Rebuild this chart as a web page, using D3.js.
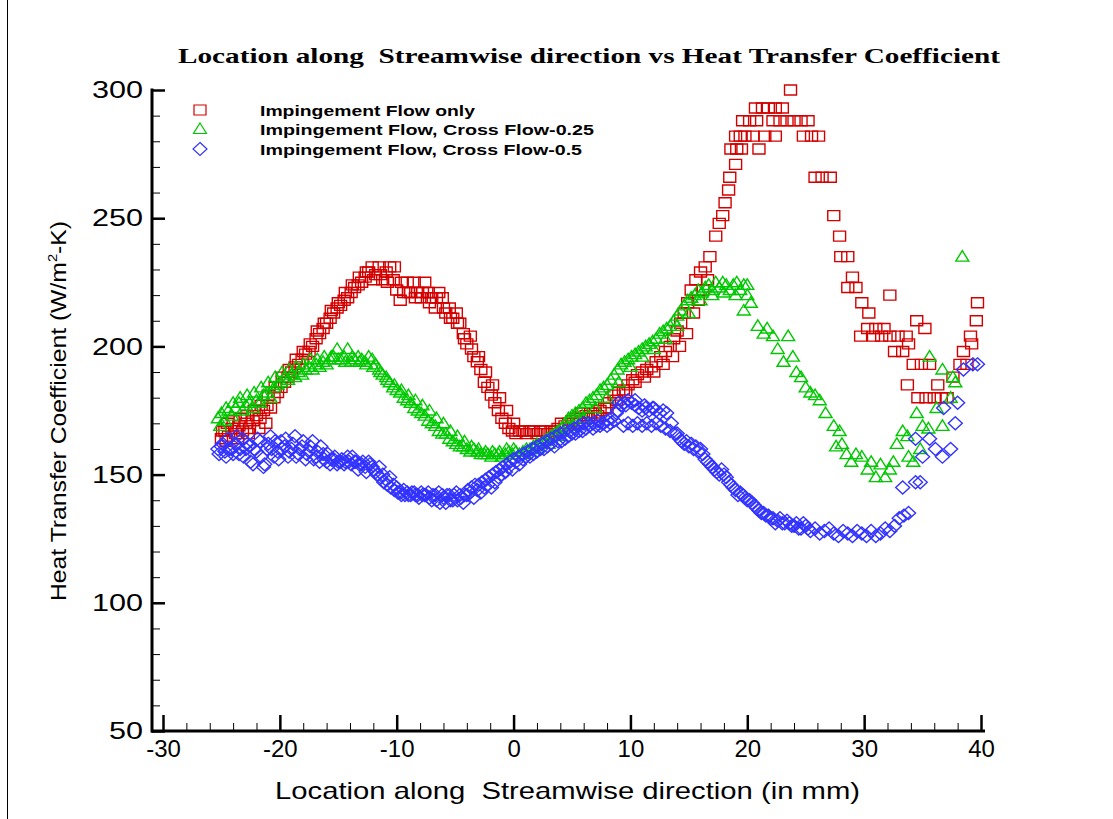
<!DOCTYPE html>
<html>
<head>
<meta charset="utf-8">
<script src="https://cdn.jsdelivr.net/npm/d3@7"></script>
<style>
  html, body { margin: 0; padding: 0; background: #fff; }
  svg { display: block; }
  text.pre { white-space: pre; }
</style>
</head>
<body>
<svg id="chart" width="1113" height="819"></svg>
<script>
// ---------------- DATA ----------------
const title = "Location along  Streamwise direction vs Heat Transfer Coefficient";
const xLabel = "Location along  Streamwise direction (in mm)";
const seriesNames = ["Impingement Flow only", "Impingement Flow, Cross Flow-0.25", "Impingement Flow, Cross Flow-0.5"];
const xTicks = [-30, -20, -10, 0, 10, 20, 30, 40];
const xMinorTicks = d3.range(-30, 41, 2);
const yTicks = [50, 100, 150, 200, 250, 300];
const yMinorTicks = d3.range(50, 301, 10);

// Impingement Flow only  [x (mm), h]
const redPoints = [
[-25.0,164],[-24.7,167],[-24.4,165],[-24.1,168],[-23.8,166],[-23.5,169],[-23.2,167],[-22.9,170],[-22.6,168],[-22.3,171],
[-22.0,173],[-21.7,172],[-21.4,175],[-21.1,177],[-20.8,176],[-20.5,180],[-20.2,182],[-19.9,184],[-19.6,186],[-19.3,188],
[-19.0,190],[-18.7,192],[-18.4,193],[-18.1,195],[-17.8,197],[-17.5,198],[-17.2,200],[-16.9,203],[-16.6,205],[-16.3,207],
[-16.0,209],[-15.7,211],[-15.4,213],[-15.1,215],[-14.8,216],[-14.5,218],[-14.2,219],[-13.9,221],[-13.6,223],[-13.3,224],
[-13.0,225],[-12.7,227],[-12.4,229],[-12.1,231],[-11.8,228],[-11.5,231],[-11.2,226],[-10.9,229],[-10.6,231],[-10.3,226],
[-10.0,222],[-9.7,218],[-9.4,221],[-9.1,225],[-8.8,221],[-8.5,225],[-8.2,221],[-7.9,219],[-7.6,225],[-7.3,221],
[-7.0,219],[-6.7,215],[-6.4,221],[-6.1,219],[-5.8,213],[-5.5,215],[-5.2,211],[-4.9,213],[-4.6,209],[-4.3,205],
[-4.0,201],[-3.7,204],[-3.4,196],[-3.1,194],[-2.8,191],[-2.5,186],[-2.2,184],[-1.9,181],[-1.6,178],[-1.3,175],
[-1.0,172],[-0.7,170],[-0.4,168],[-0.1,167],[0.2,166],[0.5,167],[0.8,167],[1.1,166],[1.4,167],[1.7,167],
[2.0,166],[2.3,167],[2.6,167],[2.9,166],[3.2,167],[3.5,167],[3.8,168],[4.1,170],[4.4,169],[4.7,170],
[5.0,171],[5.4,172],[5.8,174],[6.2,173],[6.6,174],[7.0,174],[7.4,175],[7.8,176],[8.2,178],[8.6,181],
[9.0,182],[9.4,183],[9.8,185],[10.2,187],[10.6,189],[11.0,190],[11.4,191],[11.8,192],[12.2,194],[12.6,196],
[13.0,198],[13.4,200],[13.7,203],[14.0,206],[14.3,209],[14.6,213],[14.9,217],[15.2,222],[15.6,226],[16.0,229],
[16.4,231],[16.8,235],[17.3,243],[17.6,248],[17.9,251],[18.1,256],[18.4,261],[18.5,266],[19.0,271],[18.6,277],
[19.1,277],[19.5,277],[21.0,277],[19.0,282],[19.4,282],[19.8,282],[20.5,282],[21.5,282],[22.4,282],[19.6,288],
[20.2,288],[20.8,288],[22.2,288],[22.8,288],[23.4,288],[24.0,288],[24.6,288],[25.2,288],[20.7,293],[21.3,293],
[21.8,293],[22.4,293],[23.0,293],[23.7,300],[24.8,282],[25.5,282],[26.1,282],[25.8,266],[26.4,266],[27.1,266],
[27.4,251],[27.9,243],[28.0,235],[28.6,235],[29.0,227],[28.6,223],[29.3,223],[29.8,217],[30.4,213],[32.2,220],
[29.7,204],[30.3,207],[31.0,207],[31.7,207],[30.8,204],[31.5,204],[32.2,204],[32.9,204],[33.6,204],[33.8,201],
[32.6,198],[33.3,198],[34.5,210],[35.2,207],[34.2,193],[34.9,193],[35.6,193],[33.7,185],[36.3,185],[37.6,188],
[34.6,180],[35.3,180],[36.0,180],[36.6,180],[37.1,180],[38.2,193],[38.8,193],[38.5,198],[39.1,204],[39.2,201],
[39.6,210],[39.7,217],
[-24.9,167],[-24.5,170],[-24.0,171],[-23.4,172],[-22.8,173],[-22.2,175],[-21.6,177],[-21.0,181],[-20.4,184],[-19.8,188],
[-19.2,191],[-18.6,195],[-18.0,198],[-17.4,201],[-16.8,206],[-16.2,209],[-15.6,214],[-15.0,217],[-14.4,221],[-13.8,224],
[-13.2,227],[-12.6,229],[-12.0,226],[-11.4,228],[-10.8,225],[-10.2,231],[-9.6,225],[-9.0,221],[-8.4,219],[-7.8,221],
[-7.2,217],[-6.6,219],[-6.0,215],[-5.4,211],[-4.8,209],[-4.2,203],[-3.6,199],[-3.0,196],[-2.4,190],[-1.8,185],
[-1.2,180],[-0.6,175],[0.0,170],[-24.6,163],[-23.6,164],[-22.7,166],[-21.8,168],[-21.2,170],
[5.6,170],[6.4,172],[7.2,173],[8.0,176],[8.8,179],[9.6,182],[10.4,186],[11.2,188],[12.0,190],[12.8,193],
[13.6,196],[14.2,200],[14.8,205],[15.4,213],[15.8,218],[16.2,222],[16.6,226]
];

// Impingement Flow, Cross Flow-0.25
const greenPoints = [
[-25.3,172],[-25.0,174],[-24.7,171],[-24.4,175],[-24.1,173],[-23.8,176],[-23.5,178],[-23.2,175],[-22.9,177],[-22.6,178],
[-22.3,176],[-22.0,179],[-21.7,178],[-21.4,181],[-21.1,182],[-20.8,180],[-20.5,184],[-20.2,185],[-19.9,186],[-19.6,188],
[-19.3,187],[-19.0,189],[-18.7,188],[-18.4,190],[-18.1,189],[-17.8,191],[-17.5,192],[-17.2,191],[-16.9,193],[-16.6,192],
[-16.3,194],[-16.0,193],[-15.7,195],[-15.4,196],[-15.1,199],[-14.8,195],[-14.5,196],[-14.2,199],[-13.9,194],[-13.6,195],
[-13.3,196],[-13.0,195],[-12.7,194],[-12.4,196],[-12.1,195],[-11.8,193],[-11.5,191],[-11.2,189],[-10.9,188],[-10.6,186],
[-10.3,184],[-10.0,183],[-9.7,182],[-9.4,180],[-9.1,179],[-8.8,178],[-8.5,176],[-8.2,175],[-7.9,174],[-7.6,173],
[-7.3,171],[-7.0,170],[-6.7,169],[-6.4,167],[-6.1,166],[-5.8,166],[-5.5,164],[-5.2,163],[-4.9,162],[-4.6,161],
[-4.3,161],[-4.0,160],[-3.7,159],[-3.4,160],[-3.1,159],[-2.8,158],[-2.5,158],[-2.2,158],[-1.9,157],[-1.6,158],
[-1.3,158],[-1.0,157],[-0.7,158],[-0.4,159],[-0.1,158],[0.2,159],[0.5,158],[0.8,159],[1.1,160],[1.4,160],
[1.7,161],[2.0,162],[2.3,162],[2.6,163],[2.9,164],[3.2,165],[3.5,166],[3.8,167],[4.1,168],[4.4,170],
[4.7,172],[5.0,173],[5.3,174],[5.6,175],[5.9,176],[6.2,178],[6.5,179],[6.8,180],[7.1,181],[7.4,183],
[7.7,184],[8.0,185],[8.3,187],[8.6,189],[8.9,191],[9.2,193],[9.5,194],[9.8,195],[10.1,196],[10.4,197],
[10.7,198],[11.0,199],[11.3,200],[11.6,201],[11.9,202],[12.2,203],[12.5,205],[12.8,206],[13.1,207],[13.4,208],
[13.7,210],[14.0,212],[14.3,214],[14.6,216],[14.9,218],[15.2,219],[15.5,220],[15.8,222],[16.1,221],[16.4,223],
[16.7,224],[17.0,222],[17.3,225],[17.6,223],[17.9,225],[18.2,224],[18.5,222],[18.8,224],[19.1,225],[19.4,222],
[19.7,224],[20.0,220],[19.7,214],[20.3,217],[20.9,208],[21.4,205],[21.7,207],[22.2,204],[22.6,199],[23.1,194],
[23.5,204],[23.9,196],[24.2,190],[24.6,188],[25.0,184],[25.4,182],[25.8,181],[26.2,179],[26.7,174],[27.4,169],
[27.9,167],[27.6,161],[28.1,162],[28.5,158],[28.9,155],[29.3,158],[29.8,157],[30.3,152],[30.6,155],[31.0,149],
[31.4,154],[31.8,149],[32.2,152],[32.5,155],[32.8,162],[33.3,167],[33.7,165],[33.8,157],[34.2,155],[34.5,174],
[34.8,160],[35.0,169],[35.5,168],[35.6,196],[36.2,176],[36.7,191],[36.7,169],[37.4,180],[37.6,188],[37.8,186],
[38.4,235],
[-25.1,169],[-24.6,176],[-24.0,178],[-23.4,180],[-22.8,181],[-22.2,182],[-21.6,184],[-21.0,186],[-20.4,188],[-19.8,190],
[-19.2,191],[-18.6,192],[-18.0,193],[-17.4,195],[-16.8,195],[-16.2,196],[-15.6,196],[-15.0,195],[-14.4,194],[-13.8,196],
[-13.2,194],[-12.6,193],[-12.0,192],[-11.4,190],[-10.8,187],[-10.2,185],[-9.6,183],[-9.0,181],[-8.4,179],[-7.8,177],
[-7.2,175],[-6.6,172],[-6.0,170],[-5.4,167],[-4.8,165],[-4.2,163],[-3.6,161],[-3.0,160],[-2.4,159],[-1.8,159],
[-1.2,159],[-0.6,160],[0.0,160],[1.0,158],[2.0,160],[3.0,162],[4.0,165],[5.0,169],[6.0,172],[7.0,176],
[8.0,180],[9.0,186],[10.0,192],[11.0,196],[12.0,199],[13.0,203],[14.0,208],[15.0,213],[16.0,218],[17.0,220],
[18.0,221],[19.0,220],[20.0,224]
];

// Impingement Flow, Cross Flow-0.5
const bluePoints = [
[-25.3,160],[-25.0,161],[-24.7,159],[-24.4,164],[-24.1,160],[-23.8,162],[-23.5,158],[-23.2,164],[-22.9,160],[-22.6,161],
[-22.3,154],[-22.0,159],[-21.7,163],[-21.4,153],[-21.1,160],[-20.8,165],[-20.5,157],[-20.2,159],[-19.9,163],[-19.6,161],
[-19.3,157],[-19.0,160],[-18.7,165],[-18.4,158],[-18.1,161],[-17.8,156],[-17.5,159],[-17.2,163],[-16.9,157],[-16.6,155],
[-16.3,158],[-16.0,155],[-15.7,154],[-15.4,156],[-15.1,154],[-14.8,155],[-14.5,154],[-14.2,157],[-13.9,154],[-13.6,155],
[-13.3,152],[-13.0,154],[-12.7,153],[-12.4,155],[-12.1,153],[-11.8,151],[-11.5,153],[-11.2,150],[-10.9,148],[-10.6,149],
[-10.3,146],[-10.0,145],[-9.7,143],[-9.4,144],[-9.1,143],[-8.8,142],[-8.5,143],[-8.2,142],[-7.9,143],[-7.6,142],
[-7.3,143],[-7.0,140],[-6.7,142],[-6.4,143],[-6.1,142],[-5.8,139],[-5.5,142],[-5.2,140],[-4.9,143],[-4.6,142],
[-4.3,139],[-4.0,142],[-3.7,143],[-3.4,141],[-3.1,144],[-2.8,143],[-2.5,145],[-2.2,146],[-1.9,145],[-1.6,147],
[-1.3,149],[-1.0,150],[-0.7,151],[-0.4,153],[-0.1,152],[0.2,155],[0.5,154],[0.8,156],[1.1,157],[1.4,157],
[1.7,158],[2.0,159],[2.3,160],[2.6,160],[2.9,161],[3.2,162],[3.5,161],[3.8,163],[4.1,163],[4.4,164],
[4.7,165],[5.0,166],[5.3,166],[5.6,167],[5.9,167],[6.2,168],[6.5,169],[6.8,168],[7.1,169],[7.4,169],
[7.7,170],[8.0,169],[8.3,170],[8.6,171],[8.9,175],[9.2,177],[9.5,178],[9.8,179],[10.1,178],[10.4,177],
[10.7,176],[11.0,175],[11.3,176],[11.6,175],[11.9,176],[12.2,175],[12.5,174],[12.8,175],[13.1,174],[9.4,169],
[9.8,170],[10.2,169],[10.6,170],[11.0,169],[11.4,170],[11.8,169],[12.2,170],[12.6,169],[13.0,168],[13.4,167],
[13.8,166],[14.2,164],[14.6,162],[15.0,161],[15.4,160],[15.8,159],[16.2,158],[16.6,155],[17.0,153],[17.4,151],
[17.8,152],[18.2,149],[18.6,146],[19.0,144],[19.4,143],[19.8,141],[20.2,140],[20.6,138],[21.0,136],[21.4,135],
[21.8,134],[22.2,133],[22.6,132],[23.0,131],[23.4,132],[23.8,130],[24.2,131],[24.6,129],[25.0,130],[25.4,128],
[25.8,129],[26.2,127],[26.6,128],[27.0,129],[27.4,127],[27.8,126],[28.2,128],[28.6,127],[29.0,126],[29.4,128],
[29.8,127],[30.2,126],[30.6,128],[31.0,126],[31.4,127],[31.8,129],[32.2,128],[32.6,130],[33.0,133],[33.4,134],
[33.8,135],[33.3,145],[34.4,147],[34.8,147],[34.4,164],[35.0,157],[35.6,164],[36.1,160],[36.7,157],[37.4,160],
[37.8,170],[38.0,178],[36.8,176],[38.5,191],[39.3,193],[39.7,193],
[-25.2,158],[-24.9,162],[-24.6,157],[-24.3,160],[-24.0,158],[-23.7,165],[-23.4,160],[-23.1,157],[-22.8,162],[-22.5,155],
[-22.2,160],[-21.9,164],[-21.6,157],[-21.3,154],[-21.0,162],[-20.7,160],[-20.4,163],[-20.1,156],[-19.8,160],[-19.5,164],
[-19.2,159],[-18.9,162],[-18.6,157],[-18.3,160],[-18.0,163],[-17.7,158],[-17.4,161],[-17.1,156],[-16.8,159],[-16.5,161],
[-16.2,156],[-15.9,158],[-15.6,156],[-15.3,157],[-15.0,155],[-14.7,156],[-14.4,155],[-14.1,155],[-13.8,157],[-13.5,155],
[-13.2,154],[-12.9,155],[-12.6,151],[-12.3,154],[-12.0,152],[-11.7,150],[-11.4,149],[-11.1,147],[-10.8,146],[-10.5,145],
[-10.2,144],[-9.9,143],[-9.6,142],[-9.3,142],[-9.0,142],[-8.7,143],[-8.4,142],[-8.1,141],[-7.8,142],[-7.5,142],
[-7.2,141],[-6.9,142],[-6.6,140],[-6.3,139],[-6.0,141],[-5.7,142],[-5.4,140],[-5.1,142],[-4.8,140],[-4.5,141],
[-4.2,142],[-3.9,144],[-3.6,145],[-3.3,146],[-3.0,146],[-2.7,147],[-2.4,148],[-2.1,149],[-1.8,150],[-1.5,151],
[-1.2,152],[-0.9,153],[-0.6,154],[-0.3,155],[0.0,156],[0.4,157],[0.8,158],[1.2,159],[1.6,160],[2.0,161],
[2.4,162],[2.8,163],[3.2,164],[3.6,165],[4.0,166],[4.4,167],[4.8,167],[5.2,168],[5.6,169],[6.0,170],
[6.4,170],[6.8,170],[7.2,171],[7.6,170],[8.0,171],[8.4,172],[8.8,174],
[9.0,178],[9.6,177],[10.4,179],[11.2,177],[12.0,176],[13.5,170],[14.0,166],[14.4,163],[14.8,163],[15.2,162],
[15.6,161],[16.0,160],[16.4,156],[16.8,154],[17.2,152],[17.6,150],[18.0,150],[18.4,147],[18.8,145],[19.2,142],
[19.6,142],[20.0,140],[20.4,139],[20.8,137],[21.2,135],[21.6,134],[22.0,133],[22.4,131],[22.8,133],[23.2,131],
[23.6,131],[24.0,130],[24.4,129],[24.8,131],[25.2,129]
];

// ---------------- LAYOUT ----------------
const svg = d3.select("#chart");
const x = d3.scaleLinear().domain([-30, 40]).range([163, 981]);
const y = d3.scaleLinear().domain([50, 300]).range([731, 90]);
const FONT = "'Liberation Sans', Arial, Helvetica, sans-serif";

// left frame line
svg.append("line").attr("x1", 7.5).attr("x2", 7.5).attr("y1", 0).attr("y2", 819)
  .attr("stroke", "#000").attr("stroke-width", 1);

// title
svg.append("text").attr("class", "pre").attr("x", 178).attr("y", 63)
  .attr("font-family", "'Liberation Serif', 'Times New Roman', serif")
  .attr("font-weight", "bold").attr("font-size", 21)
  .attr("textLength", 822).attr("lengthAdjust", "spacingAndGlyphs")
  .text(title);

// ---------------- AXES ----------------
const gx = svg.append("g").attr("transform", `translate(0,${y(50)})`);
gx.call(d3.axisBottom(x).tickValues(xMinorTicks).tickSize(-8).tickSizeOuter(0).tickFormat(""));
gx.select(".domain").remove();
gx.selectAll("line").attr("stroke", "#000").attr("stroke-width", 1);

const gx2 = svg.append("g").attr("transform", `translate(0,${y(50)})`);
gx2.call(d3.axisBottom(x).tickValues(xTicks).tickSize(-16).tickSizeOuter(0).tickPadding(9).tickFormat(d3.format("d")));
gx2.select(".domain").remove();
gx2.selectAll("line").attr("stroke", "#000").attr("stroke-width", 2.5);
gx2.selectAll("text").attr("font-family", FONT).attr("font-size", 24).attr("fill", "#000")
  .text(d => d < 0 ? "-" + Math.abs(d) : d);

const gy = svg.append("g").attr("transform", `translate(152,0)`);
gy.call(d3.axisLeft(y).tickValues(yMinorTicks).tickSize(-8).tickSizeOuter(0).tickFormat(""));
gy.select(".domain").remove();
gy.selectAll("line").attr("stroke", "#000").attr("stroke-width", 1);

const gy2 = svg.append("g").attr("transform", `translate(152,0)`);
gy2.call(d3.axisLeft(y).tickValues(yTicks).tickSize(-13).tickSizeOuter(0).tickPadding(9).tickFormat(d3.format("d")));
gy2.select(".domain").remove();
gy2.selectAll("line").attr("stroke", "#000").attr("stroke-width", 2.5);
gy2.selectAll("text").attr("font-family", FONT).attr("font-size", 24).attr("fill", "#000")
  .attr("textLength", d => d >= 100 ? 51 : 34).attr("lengthAdjust", "spacingAndGlyphs");

// axis lines
svg.append("line").attr("x1", 151).attr("x2", 985).attr("y1", y(50)).attr("y2", y(50))
  .attr("stroke", "#000").attr("stroke-width", 3);
svg.append("line").attr("x1", 152).attr("x2", 152).attr("y1", y(50) + 1.5).attr("y2", y(300) - 1.5)
  .attr("stroke", "#000").attr("stroke-width", 3);

// axis titles
svg.append("text").attr("class", "pre").attr("x", 275).attr("y", 799)
  .attr("font-family", FONT).attr("font-size", 24)
  .attr("textLength", 585).attr("lengthAdjust", "spacingAndGlyphs")
  .text(xLabel);

const yl = svg.append("text").attr("transform", "translate(66,601) rotate(-90)")
  .attr("font-family", FONT).attr("font-size", 22)
  .attr("textLength", 380).attr("lengthAdjust", "spacingAndGlyphs");
yl.append("tspan").text("Heat Transfer Coefficient (W/m");
yl.append("tspan").attr("dy", -9).attr("font-size", 13).text("2");
yl.append("tspan").attr("dy", 9).text("-K)");

// ---------------- MARKERS ----------------
const RED = "#d40000", GREEN = "#00c800", BLUE = "#3333ff";
const squarePath = "M-6,-5H6V5H-6Z";
const trianglePath = "M0,-6L6.5,4.5H-6.5Z";
const diamondPath = "M0,-6.5L7,0L0,6.5L-7,0Z";

function drawSeries(points, path, color) {
  svg.append("g").selectAll("path").data(points).join("path")
    .attr("d", path)
    .attr("transform", d => `translate(${x(d[0])},${y(d[1])})`)
    .attr("fill", "none").attr("stroke", color).attr("stroke-width", 1.4);
}
drawSeries(redPoints, squarePath, RED);
drawSeries(greenPoints, trianglePath, GREEN);
drawSeries(bluePoints, diamondPath, BLUE);

// ---------------- LEGEND ----------------
const legendRows = [
  {name: seriesNames[0], path: squarePath, color: RED, y: 110, len: 215},
  {name: seriesNames[1], path: trianglePath, color: GREEN, y: 129, len: 334},
  {name: seriesNames[2], path: diamondPath, color: BLUE, y: 149, len: 322}
];
const lg = svg.append("g");
legendRows.forEach(r => {
  lg.append("path").attr("d", r.path).attr("transform", `translate(200,${r.y})`)
    .attr("fill", "none").attr("stroke", r.color).attr("stroke-width", 1.2);
  lg.append("text").attr("x", 260).attr("y", r.y + 5.5)
    .attr("font-family", FONT).attr("font-weight", "bold").attr("font-size", 15.5)
    .attr("textLength", r.len).attr("lengthAdjust", "spacingAndGlyphs")
    .text(r.name);
});
</script>
</body>
</html>
